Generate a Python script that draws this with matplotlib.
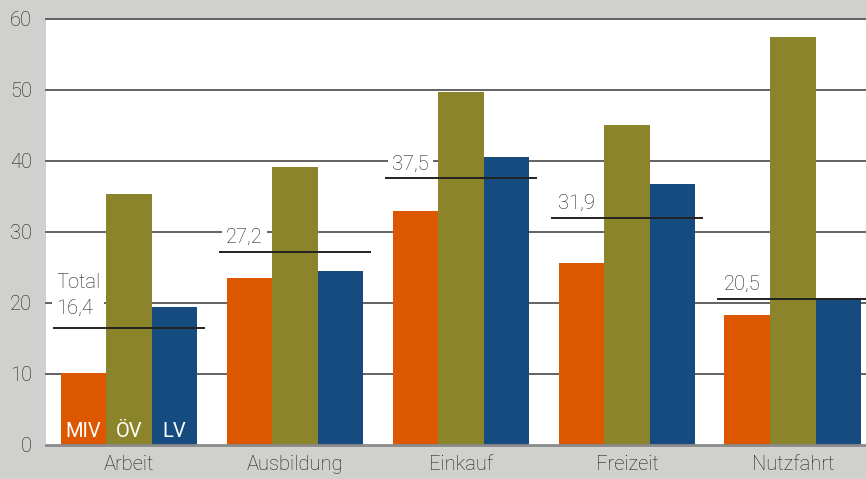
import matplotlib
matplotlib.use("Agg")
import matplotlib.pyplot as plt
import numpy as np

categories = ["Arbeit", "Ausbildung", "Einkauf", "Freizeit", "Nutzfahrt"]
series_names = ["MIV", "ÖV", "LV"]
miv = [10.1, 23.5, 32.9, 25.6, 18.3]
oev = [35.3, 39.1, 49.7, 45.0, 57.4]
lv = [19.4, 24.5, 40.5, 36.7, 20.7]
totals = [16.4, 27.2, 37.5, 31.9, 20.5]
total_labels = ["Total\n16,4", "27,2", "37,5", "31,9", "20,5"]
yticks = [0, 10, 20, 30, 40, 50, 60]

colors = ["#DC5700", "#8B842A", "#164B7F"]
bg = "#D0D0CE"
txt = "#1e1e1e"

plt.rcParams['font.family'] = ['Roboto', 'DejaVu Sans']
plt.rcParams['font.weight'] = 'light'

fig = plt.figure(figsize=(8.66, 4.79), dpi=100, facecolor=bg)
ax = fig.add_axes([46/866, 34/479, 1 - 46/866, (445 - 18.5)/479])
ax.set_facecolor("white")

x = np.arange(len(categories))
w = 0.275
for i, (vals, c) in enumerate(zip([miv, oev, lv], colors)):
    ax.bar(x + (i - 1) * w, vals, width=w, color=c, zorder=2, linewidth=0)

ax.set_xlim(-0.5, 4.44)
ax.set_ylim(0, 60)

# gridlines
for yv in yticks[1:]:
    ax.axhline(yv, color="#555555", lw=1.3, zorder=1, clip_on=False)
ax.axhline(0, color="#8a8a8a", lw=2.0, zorder=3, clip_on=False)

# totals
half = 0.458
for xi, t, lab in zip(x, totals, total_labels):
    ax.plot([xi - half, xi + half], [t, t], color="#222222", lw=1.4, zorder=4,
            solid_capstyle="butt")
    dx = 3 if "\n" in lab else 7
    dy = 11 if "\n" in lab else 5
    ax.annotate(lab, xy=(xi - half, t), xytext=(dx * 0.72, dy * 0.72),
                textcoords="offset points", ha="left", va="bottom",
                fontsize=14.5, color=txt, zorder=3, linespacing=1.4,
                bbox=dict(boxstyle="square,pad=0.2", fc="white", ec="none"))

# series labels inside Arbeit bars
for i, name in enumerate(series_names):
    ax.text(x[0] + (i - 1) * w, 1.1, name, ha="center", va="baseline",
            fontsize=14.5, color="white", zorder=5, fontweight="normal")

ax.set_yticks(yticks)
ax.set_yticklabels([str(v) for v in yticks])
ax.set_xticks(x)
ax.set_xticklabels(categories)
ax.tick_params(axis="both", length=0, labelsize=14.5, labelcolor=txt)
ax.tick_params(axis="y", pad=10)
ax.tick_params(axis="x", pad=7)
for s in ax.spines.values():
    s.set_visible(False)

fig.savefig("out.png", dpi=100, facecolor=bg)
